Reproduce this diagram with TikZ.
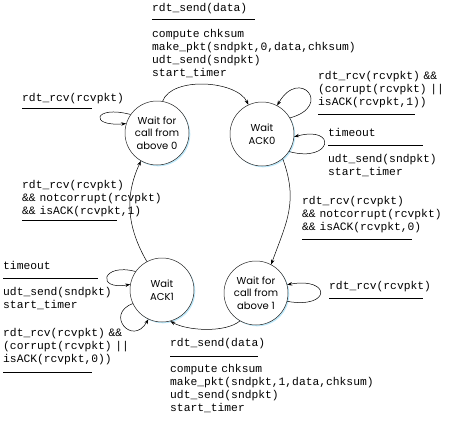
\documentclass[tikz,border=0pt]{standalone}
\usepackage{fontspec}
\setmonofont{Liberation Mono}
\newfontfamily\statefont{Poppins}
\usetikzlibrary{arrows.meta,shadows}

\begin{document}
\begin{tikzpicture}[x=1pt, y=1pt, >={Stealth[length=5pt,width=3.5pt]},
    state/.style={circle, draw=black!85, line width=0.5pt, fill=white, minimum size=64pt, inner sep=0pt,
        align=center, font=\statefont\fontsize{10}{12.5}\selectfont,
        drop shadow={shadow xshift=1.3pt, shadow yshift=-1.3pt, fill=cyan!25, opacity=1}},
    lbl/.style={anchor=base west, inner sep=0pt, text width=210pt, align=left,
        font=\ttfamily\fontsize{11.3}{13}\selectfont},
    trans/.style={->, line width=0.5pt}
]
    \useasboundingbox (0,0) rectangle (450,-421);

    % states
    \node[state] (wc0) at (157,-133) {Wait for\\call from\\above 0};
    \node[state] (wa0) at (262,-134) {Wait\\ACK0};
    \node[state] (wa1) at (162,-290) {Wait\\ACK1};
    \node[state] (wc1) at (256,-293) {Wait for\\call from\\above 1};

    % labels
    \node[lbl] (send0) at (152,-11) {rdt\_send(data)\\\rule[5pt]{103pt}{0.5pt}\\compute chksum\\make\_pkt(sndpkt,0,data,chksum)\\udt\_send(sndpkt)\\start\_timer};
    \node[lbl] (rcv0) at (22,-101) {rdt\_rcv(rcvpkt)\\\rule[6pt]{70pt}{0.5pt}};
    \node[lbl] (bad0) at (318,-79) {rdt\_rcv(rcvpkt) \&\&\\(corrupt(rcvpkt) ||\\isACK(rcvpkt,1))\\\rule[4pt]{97pt}{0.5pt}};
    \node[lbl] (tout0) at (328,-136) {timeout\\\rule[4pt]{95pt}{0.5pt}\\udt\_send(sndpkt)\\start\_timer};
    \node[lbl] (ack0) at (302,-204) {rdt\_rcv(rcvpkt)\\\&\& notcorrupt(rcvpkt)\\\&\& isACK(rcvpkt,0)\\\rule[4pt]{110pt}{0.5pt}};
    \node[lbl] (ack1) at (22,-188) {rdt\_rcv(rcvpkt)\\\&\& notcorrupt(rcvpkt)\\\&\& isACK(rcvpkt,1)\\\rule[7pt]{95pt}{0.5pt}};
    \node[lbl] (tout1) at (3,-269) {timeout\\\rule[4pt]{95pt}{0.5pt}\\udt\_send(sndpkt)\\start\_timer};
    \node[lbl] (bad1) at (3,-336) {rdt\_rcv(rcvpkt) \&\&\\(corrupt(rcvpkt) ||\\isACK(rcvpkt,0))\\\rule[3pt]{89pt}{0.5pt}};
    \node[lbl] (rcv1) at (329,-289) {rdt\_rcv(rcvpkt)\\\rule[4pt]{94pt}{0.5pt}};
    \node[lbl] (send1) at (170,-346) {rdt\_send(data)\\\rule[3pt]{88pt}{0.5pt}\\compute chksum\\make\_pkt(sndpkt,1,data,chksum)\\udt\_send(sndpkt)\\start\_timer};

    % transitions
    \draw[trans] (wc0.80) to[out=70, in=115, looseness=0.8] (wa0.115);
    \draw[trans] (wc0.145) .. controls +(165:38) and +(185:38) .. (wc0.163);
    \draw[trans] (wa0.30) .. controls +(15:45) and +(60:45) .. (wa0.62);
    \draw[trans] (wa0.-33) .. controls +(-15:45) and +(15:45) .. (wa0.-5);
    \draw[trans] (wa0.-50) to[out=-70, in=70, looseness=1.1] (wc1.62);
    \draw[trans] (wc1.-15) .. controls +(-10:45) and +(10:45) .. (wc1.15);
    \draw[trans] (wc1.-120) to[out=-140, in=-30, looseness=0.7] (wa1.-75);
    \draw[trans] (wa1.145) .. controls +(165:35) and +(190:35) .. (wa1.170);
    \draw[trans] (wa1.-155) .. controls +(-160:30) and +(-120:32) .. (wa1.-115);
    \draw[trans] (wa1.118) to[out=120, in=-115] (wc0.-120);
\end{tikzpicture}
\end{document}
